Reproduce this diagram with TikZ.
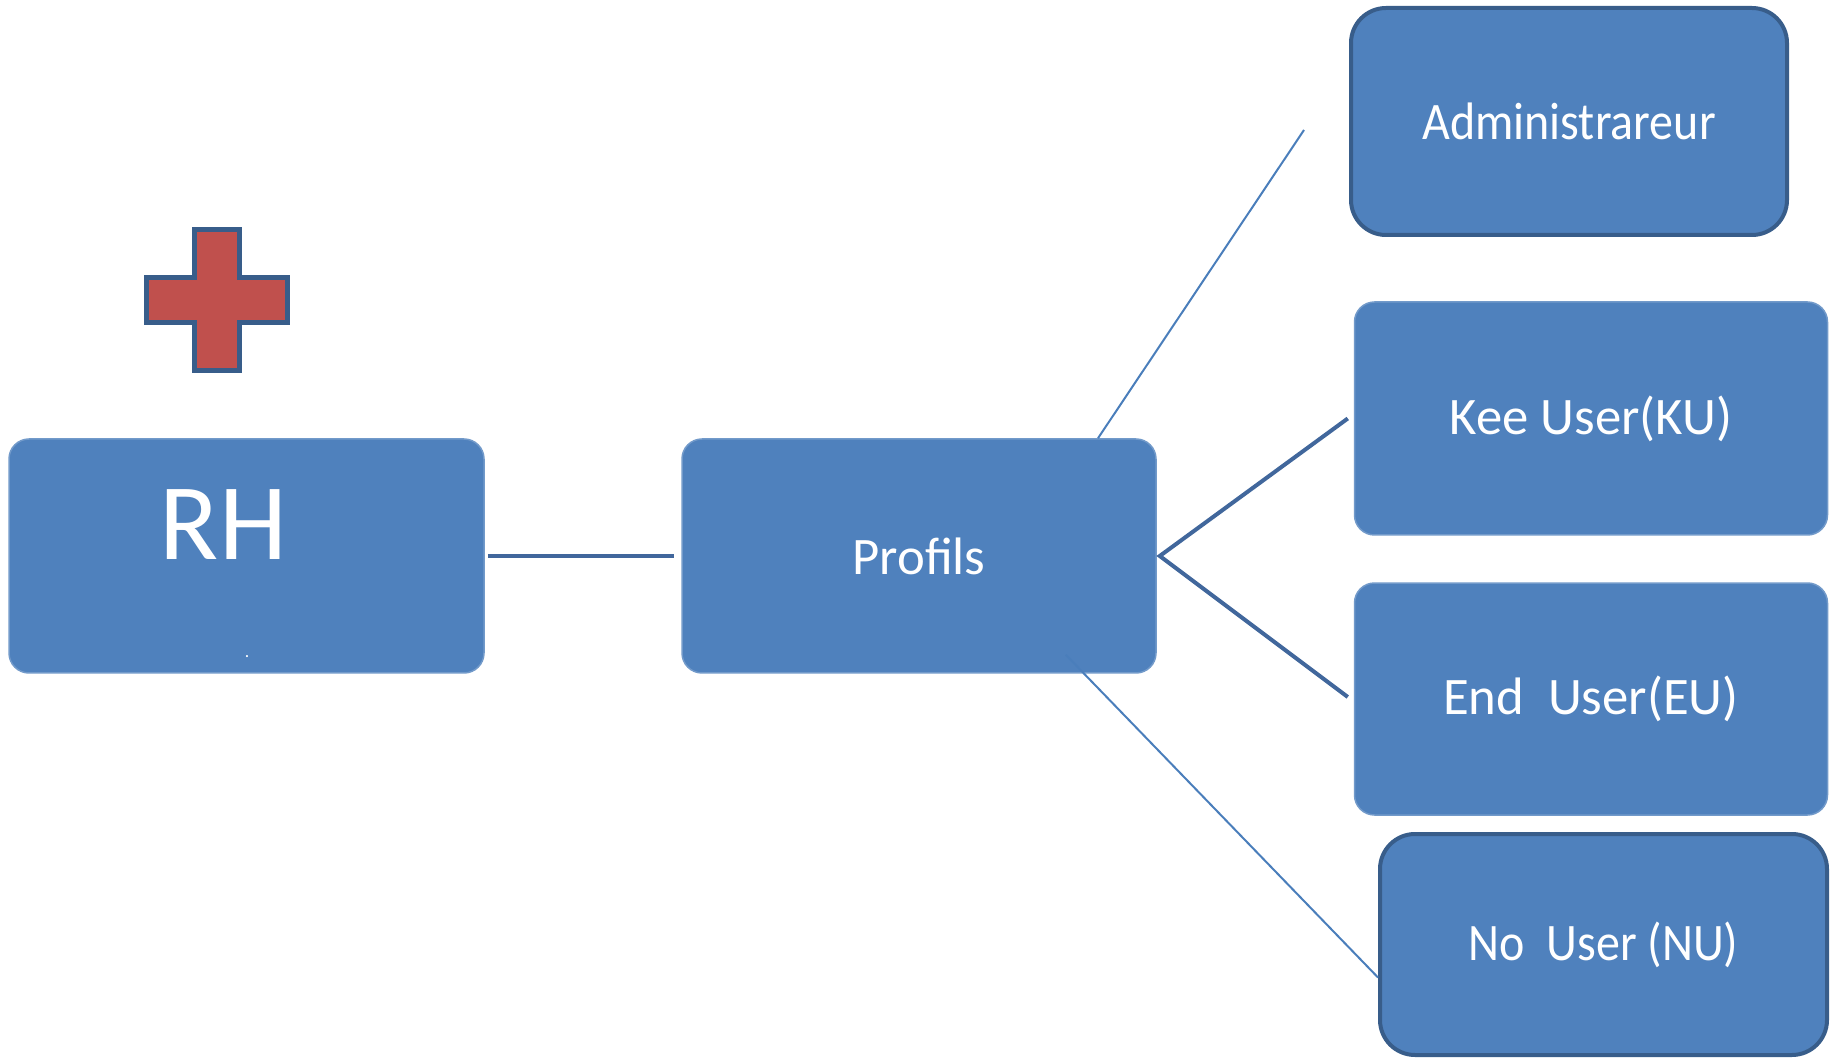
\documentclass[tikz,border=0pt]{standalone}
\usepackage{fontspec}
\setmainfont{Carlito}
\definecolor{boxblue}{HTML}{4F81BD}
\definecolor{edgeblue}{HTML}{385D8A}
\definecolor{lineblue}{HTML}{4A7EBB}
\definecolor{linkblue}{HTML}{41679C}
\definecolor{crossred}{HTML}{C0504D}

\begin{document}
\begin{tikzpicture}[x=0.1mm,y=-0.1mm,
  box/.style={draw=boxblue!80!white, fill=boxblue, line width=0.15mm, rounded corners=2mm,
    text=white, font=\fontsize{15}{18}\selectfont, minimum width=47.3mm, minimum height=23.3mm, inner sep=0pt},
  darkbox/.style={box, draw=edgeblue, line width=0.4mm, rounded corners=3.5mm},
  thinline/.style={draw=lineblue, line width=0.2mm},
  thickline/.style={draw=linkblue, line width=0.4mm}]
\useasboundingbox (0,0) rectangle (1831,1059);

% red cross
\draw[fill=crossred, draw=edgeblue, line width=0.5mm]
  (194.5,229.5) -- (239.5,229.5) -- (239.5,277.5) -- (287.5,277.5) -- (287.5,322.5) -- (239.5,322.5)
  -- (239.5,370.5) -- (194.5,370.5) -- (194.5,322.5) -- (146.5,322.5) -- (146.5,277.5) -- (194.5,277.5) -- cycle;

% boxes
\node[box, minimum width=47.5mm, minimum height=23.4mm] (rh) at (246.5,556) {};
\node[text=white, font=\fontsize{31}{36}\selectfont] (rhtext) at ([xshift=-2.3mm,yshift=3.1mm]rh.center) {RH};
\node[text=white, font=\tiny, inner sep=0pt] (rhdot) at (247,657) {.};
\node[box, minimum width=47.4mm, minimum height=23.4mm] (prof) at (919,556) {Profils};
\node[darkbox, minimum width=43.6mm, minimum height=22.7mm] (admin) at (1569,121.5) {\scalebox{0.91}[1]{Administrareur}};
\node[box] (kee) at (1591,418.5) {Kee User(KU)};
\node[box, minimum height=23.2mm] (endu) at (1591,699) {End\ \ User(EU)};
\node[darkbox, minimum width=44.7mm, minimum height=22.1mm] (nu) at (1603.5,944.5) {\scalebox{0.91}[1]{No\ \ User (NU)}};

% connectors
\draw[thickline] ([xshift=0.3mm]rh.east) -- ([xshift=-0.7mm]prof.west);
\coordinate (fork) at ([xshift=0.3mm]prof.east);
\coordinate (admfree) at ([xshift=-4.5mm,yshift=-0.85mm]admin.west);
\draw[thinline] ([xshift=17.9mm]prof.north) -- (admfree);
\draw[thickline, line join=miter] ([xshift=-0.6mm]kee.west) -- (fork) -- ([xshift=-0.6mm,yshift=0.2mm]endu.west);
\draw[thinline] ([xshift=-9.1mm,yshift=1.9mm]prof.south east) -- ([yshift=-3.3mm]nu.west);

\end{tikzpicture}
\end{document}
